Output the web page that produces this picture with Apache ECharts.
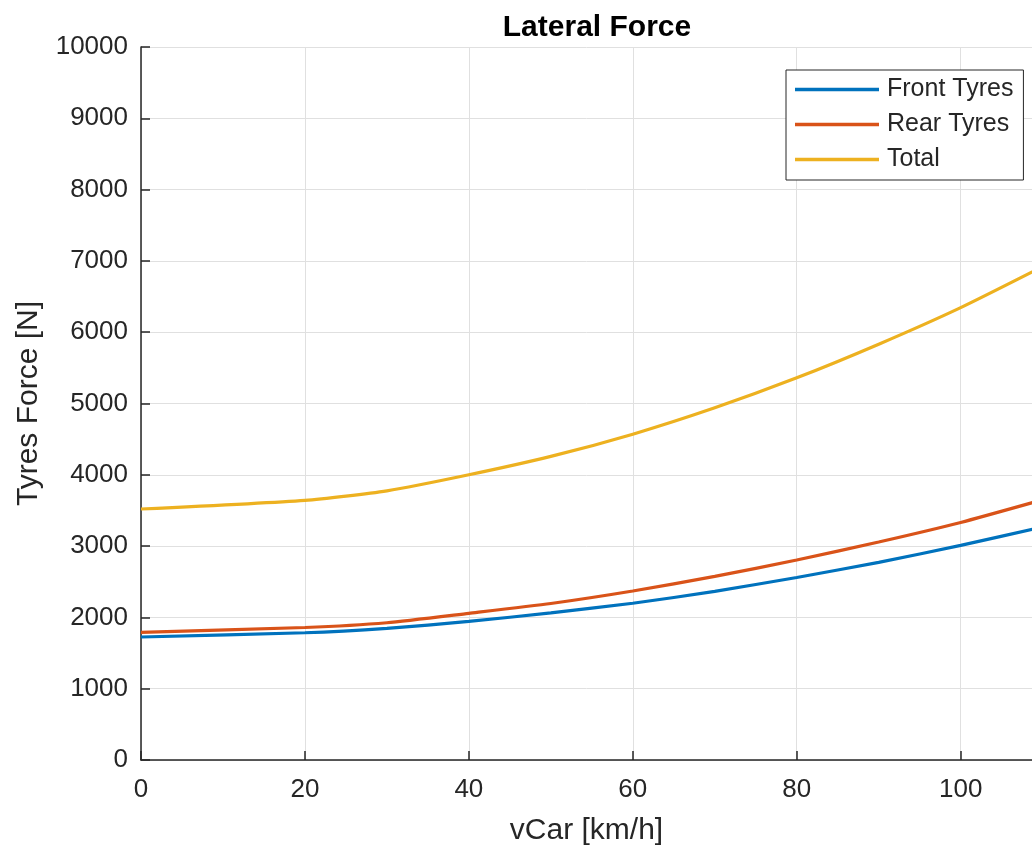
<!DOCTYPE html>
<html>
<head>
<meta charset="utf-8">
<script src="https://cdn.jsdelivr.net/npm/echarts@6/dist/echarts.min.js"></script>
<style>
html,body{margin:0;padding:0;background:#fff;}
#chart{width:1032px;height:846px;}
</style>
</head>
<body>
<div id="chart"></div>
<script>
// Data
var speeds      = [0,    20,   30,   40,   50,   60,   70,   80,   90,   100,  110];
var frontTyres  = [1725, 1785, 1847, 1943, 2064, 2198, 2365, 2560, 2772, 3010, 3270];
var rearTyres   = [1790, 1858, 1925, 2057, 2195, 2370, 2575, 2805, 3058, 3332, 3650];
var totalForce  = [3520, 3642, 3775, 4000, 4258, 4570, 4940, 5360, 5832, 6345, 6920];
var seriesNames = ['Front Tyres', 'Rear Tyres', 'Total'];
var seriesColors = ['#0072BD', '#D95319', '#EDB120'];

function pairs(ys){ return speeds.map(function(x,i){ return [x, ys[i]]; }); }

var FONT = "'Liberation Sans', Arial, Helvetica, sans-serif";
var AXIS_COLOR = '#262626';
var GRID_COLOR = '#e0e0e0';

var chart = echarts.init(document.getElementById('chart'), null, {renderer:'canvas'});
chart.setOption({
  animation: false,
  backgroundColor: '#ffffff',
  textStyle: {fontFamily: FONT},
  title: {
    text: 'Lateral Force',
    left: 592, top: 8, textAlign: 'center',
    textStyle: {fontFamily: FONT, fontSize: 30, fontWeight: 'bold', color: '#000'}
  },
  grid: {left: 141, right: 0, top: 47, bottom: 86, containLabel: false, outerBoundsMode: 'none'},
  legend: {
    orient: 'vertical',
    left: 786, top: 70,
    padding: [7, 10, 8, 9],
    itemGap: 10,
    itemWidth: 84, itemHeight: 3.5,
    icon: 'rect',
    backgroundColor: '#fff',
    borderColor: AXIS_COLOR, borderWidth: 1, borderRadius: 0,
    textStyle: {fontFamily: FONT, fontSize: 25, lineHeight: 24, color: '#262626', padding: [0,0,0,3]},
    data: seriesNames
  },
  xAxis: {
    type: 'value', min: 0, max: 108.7, interval: 20,
    name: 'vCar [km/h]', nameLocation: 'middle', nameGap: 56,
    nameTextStyle: {fontFamily: FONT, fontSize: 30, color: AXIS_COLOR},
    axisLine: {show: true, lineStyle: {color: AXIS_COLOR, width: 1.5}},
    axisTick: {show: true, inside: true, length: 9, lineStyle: {color: AXIS_COLOR, width: 1.5}},
    axisLabel: {fontFamily: FONT, fontSize: 26, color: AXIS_COLOR, margin: 17, showMaxLabel: false,
      formatter: function(v){ return String(v); }},
    splitLine: {show: true, lineStyle: {color: GRID_COLOR, width: 1}}
  },
  yAxis: {
    type: 'value', min: 0, max: 10000, interval: 1000,
    name: 'Tyres Force [N]', nameLocation: 'middle', nameGap: 97,
    nameTextStyle: {fontFamily: FONT, fontSize: 30, color: AXIS_COLOR},
    axisLine: {show: true, lineStyle: {color: AXIS_COLOR, width: 1.5}},
    axisTick: {show: true, inside: true, length: 9, lineStyle: {color: AXIS_COLOR, width: 1.5}},
    axisLabel: {fontFamily: FONT, fontSize: 26, color: AXIS_COLOR, margin: 13,
      formatter: function(v){ return String(v); }},
    splitLine: {show: true, lineStyle: {color: GRID_COLOR, width: 1}}
  },
  series: [frontTyres, rearTyres, totalForce].map(function(ys, i){
    return {
      name: seriesNames[i], type: 'line', data: pairs(ys),
      symbol: 'none', showSymbol: false, clip: true,
      smooth: 0.2,
      color: seriesColors[i],
      itemStyle: {color: seriesColors[i]},
      lineStyle: {color: seriesColors[i], width: 3.2}
    };
  })
});
</script>
</body>
</html>
